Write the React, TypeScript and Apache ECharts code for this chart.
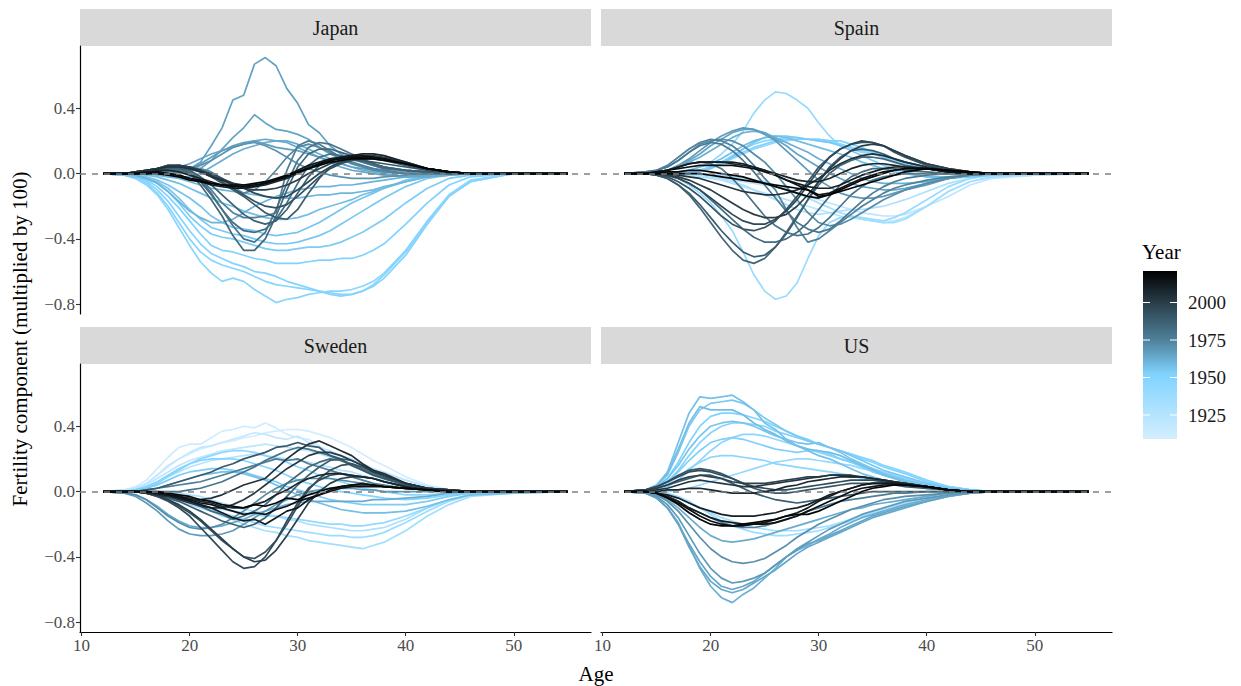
import React, { useEffect, useRef } from "react";
import * as echarts from "echarts";

// ---------- data ----------
const ages = [12, 14, 15, 16, 17, 18, 19, 20, 21, 22, 23, 24, 25, 26, 27, 28, 29, 30, 31, 32, 33, 34, 35, 36, 37, 38, 40, 42, 44, 46, 50, 55];

const countries = ["Japan", "Spain", "Sweden", "US"];

const japanYears = [1948, 1950, 1952, 1954, 1956, 1958, 1960, 1963, 1965, 1966, 1970, 1976, 1984, 1990, 1996, 2004, 2012, 2019,
  1949, 1955, 1961, 1964, 1967, 1973, 1980, 1982, 1987, 1993, 2000, 2008, 2016];
const japanValues = [
  [0, -0.01, -0.03, -0.07, -0.13, -0.22, -0.33, -0.44, -0.54, -0.61, -0.66, -0.64, -0.66, -0.71, -0.75, -0.79, -0.77, -0.76, -0.74, -0.73, -0.72, -0.72, -0.71, -0.69, -0.66, -0.61, -0.47, -0.29, -0.13, -0.04, 0, 0],
  [0, -0.01, -0.02, -0.05, -0.1, -0.17, -0.26, -0.35, -0.43, -0.49, -0.52, -0.55, -0.57, -0.6, -0.61, -0.63, -0.66, -0.68, -0.7, -0.72, -0.73, -0.74, -0.74, -0.72, -0.69, -0.64, -0.5, -0.31, -0.14, -0.05, 0, 0],
  [0, -0.01, -0.02, -0.04, -0.08, -0.14, -0.21, -0.29, -0.37, -0.44, -0.47, -0.48, -0.5, -0.52, -0.53, -0.55, -0.55, -0.55, -0.54, -0.53, -0.53, -0.52, -0.52, -0.5, -0.47, -0.43, -0.31, -0.18, -0.07, -0.02, 0, 0],
  [0, -0.01, -0.02, -0.03, -0.06, -0.11, -0.18, -0.26, -0.32, -0.37, -0.39, -0.4, -0.42, -0.44, -0.46, -0.47, -0.47, -0.46, -0.45, -0.45, -0.44, -0.42, -0.39, -0.36, -0.32, -0.28, -0.18, -0.09, -0.03, -0.01, 0, 0],
  [0, 0, -0.01, -0.02, -0.04, -0.07, -0.11, -0.15, -0.2, -0.26, -0.3, -0.33, -0.34, -0.35, -0.37, -0.38, -0.37, -0.36, -0.33, -0.3, -0.26, -0.22, -0.18, -0.15, -0.12, -0.09, -0.04, -0.01, 0, 0, 0, 0],
  [0, 0, 0, -0.01, -0.02, -0.04, -0.06, -0.09, -0.12, -0.15, -0.18, -0.2, -0.23, -0.25, -0.27, -0.28, -0.28, -0.27, -0.25, -0.22, -0.2, -0.18, -0.16, -0.13, -0.11, -0.09, -0.05, -0.02, 0, 0, 0, 0],
  [0, 0, 0, 0, -0.01, -0.02, -0.03, -0.05, -0.07, -0.09, -0.1, -0.11, -0.12, -0.13, -0.14, -0.15, -0.15, -0.15, -0.14, -0.13, -0.13, -0.12, -0.12, -0.11, -0.1, -0.08, -0.05, -0.02, -0.01, 0, 0, 0],
  [0, 0, 0, 0, 0, -0.01, -0.02, -0.02, 0, 0.04, 0.08, 0.12, 0.15, 0.17, 0.19, 0.2, 0.2, 0.18, 0.15, 0.12, 0.09, 0.06, 0.04, 0.02, 0.01, 0, -0.02, -0.02, -0.01, 0, 0, 0],
  [0, 0, 0, 0, 0, 0, 0.01, 0.02, 0.03, 0.08, 0.15, 0.22, 0.28, 0.36, 0.31, 0.27, 0.26, 0.24, 0.21, 0.16, 0.12, 0.09, 0.06, 0.04, 0.03, 0.02, 0, 0, 0, 0, 0, 0],
  [0, 0, 0, 0, 0, 0, 0.01, 0.03, 0.07, 0.17, 0.28, 0.45, 0.48, 0.67, 0.71, 0.66, 0.52, 0.43, 0.3, 0.25, 0.17, 0.12, 0.09, 0.07, 0.05, 0.03, 0.01, 0, 0, 0, 0, 0],
  [0, 0, 0, 0, 0.01, 0.01, 0.02, 0.03, 0.05, 0.08, 0.12, 0.16, 0.18, 0.19, 0.17, 0.14, 0.1, 0.06, 0.03, 0.01, -0.01, -0.02, -0.03, -0.03, -0.03, -0.02, -0.01, 0, 0, 0, 0, 0],
  [0, 0, 0, 0.01, 0.02, 0.03, 0.03, 0.02, -0.03, -0.1, -0.18, -0.24, -0.27, -0.27, -0.26, -0.24, 0.02, 0.17, 0.2, 0.18, 0.14, 0.1, 0.07, 0.05, 0.03, 0.02, 0, 0, 0, 0, 0, 0],
  [0, 0, 0, 0.01, 0.02, 0.03, 0.03, 0, -0.07, -0.16, -0.26, -0.38, -0.47, -0.47, -0.4, -0.26, -0.1, 0.04, 0.12, 0.15, 0.15, 0.13, 0.11, 0.08, 0.06, 0.04, 0.02, 0.01, 0, 0, 0, 0],
  [0, 0, 0, 0.01, 0.03, 0.04, 0.04, 0.03, 0.01, -0.02, -0.06, -0.1, -0.14, -0.19, -0.24, -0.27, -0.28, -0.22, -0.12, -0.03, 0.04, 0.07, 0.08, 0.08, 0.07, 0.06, 0.04, 0.02, 0.01, 0, 0, 0],
  [0, 0, 0.01, 0.02, 0.03, 0.05, 0.05, 0.04, 0.02, 0, -0.03, -0.06, -0.09, -0.12, -0.14, -0.15, -0.14, -0.1, -0.05, 0, 0.04, 0.07, 0.09, 0.1, 0.1, 0.09, 0.06, 0.03, 0.01, 0, 0, 0],
  [0, 0, 0.01, 0.02, 0.03, 0.04, 0.04, 0.03, 0.01, -0.02, -0.04, -0.06, -0.07, -0.07, -0.06, -0.04, -0.02, 0.01, 0.04, 0.06, 0.08, 0.1, 0.11, 0.11, 0.1, 0.09, 0.06, 0.03, 0.01, 0, 0, 0],
  [0, 0, 0, 0.01, 0.01, 0, -0.01, -0.03, -0.05, -0.07, -0.08, -0.09, -0.09, -0.08, -0.06, -0.04, -0.01, 0.02, 0.05, 0.07, 0.09, 0.1, 0.11, 0.11, 0.1, 0.09, 0.06, 0.03, 0.01, 0, 0, 0],
  [0, 0, 0, 0, 0, -0.01, -0.02, -0.04, -0.05, -0.06, -0.07, -0.07, -0.07, -0.06, -0.05, -0.03, -0.01, 0.01, 0.03, 0.05, 0.07, 0.08, 0.09, 0.09, 0.09, 0.08, 0.06, 0.03, 0.01, 0, 0, 0],
  [0, -0.01, -0.03, -0.06, -0.12, -0.2, -0.3, -0.4, -0.48, -0.53, -0.56, -0.58, -0.6, -0.63, -0.66, -0.68, -0.69, -0.7, -0.71, -0.72, -0.74, -0.75, -0.74, -0.72, -0.68, -0.62, -0.48, -0.3, -0.14, -0.05, 0, 0],
  [0, -0.01, -0.02, -0.03, -0.05, -0.09, -0.15, -0.22, -0.28, -0.33, -0.35, -0.37, -0.38, -0.4, -0.42, -0.43, -0.43, -0.42, -0.4, -0.38, -0.35, -0.31, -0.27, -0.23, -0.19, -0.15, -0.08, -0.03, -0.01, 0, 0, 0],
  [0, 0, -0.01, -0.03, -0.06, -0.11, -0.17, -0.23, -0.27, -0.3, -0.3, -0.28, -0.24, -0.2, -0.17, -0.14, -0.12, -0.1, -0.09, -0.08, -0.08, -0.07, -0.07, -0.06, -0.05, -0.04, -0.02, -0.01, 0, 0, 0, 0],
  [0, 0, 0, 0, 0.01, 0.02, 0.04, 0.06, 0.09, 0.12, 0.14, 0.16, 0.18, 0.2, 0.21, 0.2, 0.19, 0.16, 0.13, 0.1, 0.07, 0.04, 0.02, 0.01, 0, -0.01, -0.02, -0.01, 0, 0, 0, 0],
  [0, 0, 0, 0, 0, 0.01, 0.02, 0.03, 0.06, 0.1, 0.14, 0.17, 0.19, 0.2, 0.18, 0.16, 0.15, 0.14, 0.12, 0.1, 0.08, 0.06, 0.04, 0.03, 0.02, 0.01, 0, 0, 0, 0, 0, 0],
  [0, 0, 0, 0.01, 0.02, 0.03, 0.04, 0.04, 0.03, 0.01, -0.03, -0.08, -0.12, -0.1, -0.05, 0.02, 0.1, 0.16, 0.18, 0.16, 0.13, 0.09, 0.06, 0.04, 0.02, 0.01, 0, 0, 0, 0, 0, 0],
  [0, 0, 0, 0.01, 0.02, 0.03, 0.03, 0.01, -0.04, -0.12, -0.22, -0.32, -0.4, -0.42, -0.36, -0.22, -0.06, 0.08, 0.16, 0.19, 0.18, 0.15, 0.12, 0.09, 0.06, 0.04, 0.02, 0.01, 0, 0, 0, 0],
  [0, 0, 0, 0.01, 0.02, 0.02, 0.02, 0, -0.05, -0.13, -0.22, -0.3, -0.35, -0.36, -0.34, -0.28, -0.18, -0.06, 0.05, 0.1, 0.12, 0.11, 0.09, 0.07, 0.05, 0.03, 0.02, 0.01, 0, 0, 0, 0],
  [0, 0, 0, 0.01, 0.02, 0.03, 0.03, 0.02, -0.02, -0.07, -0.13, -0.19, -0.25, -0.29, -0.31, -0.29, -0.22, -0.12, -0.02, 0.05, 0.09, 0.1, 0.09, 0.08, 0.06, 0.04, 0.02, 0.01, 0, 0, 0, 0],
  [0, 0, 0.01, 0.02, 0.03, 0.04, 0.05, 0.04, 0.02, -0.01, -0.05, -0.09, -0.13, -0.17, -0.2, -0.21, -0.19, -0.14, -0.08, -0.02, 0.03, 0.06, 0.08, 0.09, 0.09, 0.08, 0.05, 0.02, 0.01, 0, 0, 0],
  [0, 0, 0.01, 0.02, 0.03, 0.05, 0.05, 0.04, 0.02, -0.01, -0.04, -0.07, -0.09, -0.1, -0.1, -0.09, -0.07, -0.04, 0, 0.03, 0.06, 0.08, 0.1, 0.11, 0.11, 0.1, 0.07, 0.03, 0.01, 0, 0, 0],
  [0, 0, 0, 0.01, 0.02, 0.02, 0.01, -0.01, -0.03, -0.05, -0.07, -0.08, -0.08, -0.08, -0.07, -0.05, -0.03, 0, 0.03, 0.06, 0.08, 0.1, 0.11, 0.12, 0.12, 0.11, 0.07, 0.03, 0.01, 0, 0, 0],
  [0, 0, 0, 0, 0.01, 0, -0.01, -0.03, -0.04, -0.06, -0.07, -0.08, -0.08, -0.07, -0.06, -0.04, -0.02, 0.01, 0.03, 0.06, 0.08, 0.09, 0.1, 0.1, 0.1, 0.09, 0.06, 0.03, 0.01, 0, 0, 0],
];

const spainYears = [1925, 1930, 1939, 1941, 1948, 1955, 1962, 1968, 1975, 1980, 1985, 1992, 2000, 2008, 2015, 2020,
  1922, 1935, 1945, 1952, 1958, 1965, 1972, 1978, 1983, 1988, 1996, 2004, 2011, 2018];
const spainValues = [
  [0, 0, 0, 0, 0, -0.01, -0.02, -0.03, -0.04, -0.06, -0.08, -0.1, -0.12, -0.14, -0.16, -0.18, -0.2, -0.22, -0.24, -0.26, -0.27, -0.28, -0.29, -0.3, -0.29, -0.27, -0.2, -0.11, -0.05, -0.02, -0.01, 0],
  [0, 0, 0, 0, 0, 0, -0.01, -0.02, -0.03, -0.05, -0.07, -0.1, -0.13, -0.16, -0.19, -0.22, -0.24, -0.25, -0.24, -0.23, -0.22, -0.22, -0.21, -0.2, -0.18, -0.16, -0.11, -0.06, -0.03, -0.01, 0, 0],
  [0, 0, 0, -0.01, -0.03, -0.07, -0.12, -0.18, -0.26, -0.35, -0.48, -0.62, -0.72, -0.77, -0.75, -0.67, -0.52, -0.38, -0.3, -0.27, -0.26, -0.27, -0.28, -0.29, -0.27, -0.24, -0.16, -0.08, -0.03, -0.01, 0, 0],
  [0, 0, 0, 0, 0.01, 0.02, 0.04, 0.07, 0.12, 0.18, 0.26, 0.37, 0.45, 0.5, 0.49, 0.45, 0.4, 0.31, 0.23, 0.17, 0.15, 0.13, 0.12, 0.1, 0.08, 0.06, 0.03, 0.01, 0, 0, 0, 0],
  [0, 0, 0, 0, 0, 0.01, 0.02, 0.04, 0.07, 0.11, 0.15, 0.18, 0.2, 0.21, 0.22, 0.22, 0.21, 0.2, 0.19, 0.18, 0.16, 0.15, 0.13, 0.11, 0.09, 0.07, 0.04, 0.02, 0.01, 0, 0, 0],
  [0, 0, 0, 0, 0, 0, 0.01, 0.03, 0.06, 0.1, 0.15, 0.19, 0.22, 0.23, 0.23, 0.22, 0.21, 0.2, 0.19, 0.17, 0.14, 0.11, 0.08, 0.05, 0.03, 0.01, -0.02, -0.03, -0.02, -0.01, 0, 0],
  [0, 0, 0.01, 0.02, 0.04, 0.07, 0.1, 0.14, 0.18, 0.22, 0.25, 0.26, 0.25, 0.22, 0.19, 0.16, 0.13, 0.09, 0.06, 0.03, 0, -0.03, -0.05, -0.06, -0.06, -0.06, -0.05, -0.03, -0.01, 0, 0, 0],
  [0, 0, 0.01, 0.02, 0.05, 0.09, 0.14, 0.19, 0.23, 0.26, 0.28, 0.27, 0.24, 0.2, 0.14, 0.08, 0.02, -0.04, -0.08, -0.12, -0.14, -0.15, -0.15, -0.14, -0.12, -0.1, -0.07, -0.03, -0.01, 0, 0, 0],
  [0, 0.01, 0.02, 0.05, 0.1, 0.15, 0.19, 0.21, 0.2, 0.17, 0.12, 0.05, -0.03, -0.1, -0.22, -0.33, -0.42, -0.4, -0.35, -0.3, -0.25, -0.2, -0.16, -0.12, -0.09, -0.07, -0.04, -0.02, -0.01, 0, 0, 0],
  [0, 0, 0.01, 0.02, 0.04, 0.06, 0.07, 0.06, 0.03, -0.03, -0.1, -0.18, -0.26, -0.32, -0.36, -0.38, -0.37, -0.33, -0.27, -0.2, -0.13, -0.08, -0.04, -0.02, -0.01, 0, 0, 0, 0, 0, 0, 0],
  [0, 0, -0.01, -0.03, -0.07, -0.13, -0.21, -0.3, -0.39, -0.47, -0.53, -0.55, -0.52, -0.45, -0.36, -0.26, -0.16, -0.07, 0, 0.05, 0.08, 0.1, 0.1, 0.09, 0.07, 0.05, 0.03, 0.01, 0, 0, 0, 0],
  [0, 0, -0.01, -0.02, -0.05, -0.09, -0.14, -0.2, -0.26, -0.31, -0.34, -0.35, -0.33, -0.29, -0.22, -0.14, -0.05, 0.04, 0.1, 0.15, 0.18, 0.19, 0.19, 0.17, 0.13, 0.1, 0.05, 0.02, 0.01, 0, 0, 0],
  [0, 0, 0, -0.01, -0.02, -0.04, -0.07, -0.1, -0.14, -0.18, -0.22, -0.25, -0.27, -0.27, -0.25, -0.2, -0.13, -0.05, 0.03, 0.09, 0.14, 0.17, 0.18, 0.17, 0.14, 0.11, 0.06, 0.03, 0.01, 0, 0, 0],
  [0, 0, 0.01, 0.02, 0.04, 0.06, 0.07, 0.07, 0.07, 0.06, 0.05, 0.04, 0.02, 0, -0.02, -0.04, -0.05, -0.05, -0.03, 0, 0.03, 0.05, 0.06, 0.06, 0.05, 0.04, 0.03, 0.01, 0, 0, 0, 0],
  [0, 0, 0.01, 0.02, 0.03, 0.04, 0.05, 0.05, 0.05, 0.05, 0.04, 0.03, 0.01, -0.01, -0.04, -0.07, -0.1, -0.13, -0.12, -0.09, -0.06, -0.03, -0.01, 0.01, 0.02, 0.03, 0.03, 0.01, 0, 0, 0, 0],
  [0, 0, 0, 0, 0, 0, 0, -0.01, -0.02, -0.03, -0.04, -0.05, -0.06, -0.07, -0.08, -0.09, -0.1, -0.14, -0.13, -0.11, -0.09, -0.07, -0.05, -0.03, -0.01, 0.01, 0.03, 0.02, 0.01, 0, 0, 0],
  [0, 0, 0, 0, 0, 0, -0.01, -0.02, -0.03, -0.04, -0.05, -0.06, -0.07, -0.08, -0.1, -0.12, -0.14, -0.16, -0.18, -0.2, -0.22, -0.24, -0.25, -0.26, -0.26, -0.25, -0.2, -0.14, -0.07, -0.03, -0.01, 0],
  [0, 0, 0, 0, 0, 0, 0, -0.01, -0.01, -0.02, -0.03, -0.04, -0.05, -0.07, -0.09, -0.12, -0.15, -0.18, -0.21, -0.24, -0.26, -0.28, -0.29, -0.3, -0.3, -0.28, -0.2, -0.11, -0.05, -0.02, 0, 0],
  [0, 0, 0, 0, 0, 0.01, 0.02, 0.04, 0.06, 0.09, 0.12, 0.15, 0.17, 0.19, 0.2, 0.21, 0.21, 0.21, 0.2, 0.18, 0.16, 0.14, 0.12, 0.1, 0.08, 0.06, 0.03, 0.01, 0, 0, 0, 0],
  [0, 0, 0, 0, 0, 0.01, 0.02, 0.04, 0.07, 0.1, 0.13, 0.16, 0.18, 0.2, 0.21, 0.21, 0.21, 0.21, 0.2, 0.2, 0.18, 0.16, 0.13, 0.1, 0.08, 0.06, 0.03, 0.01, 0, 0, 0, 0],
  [0, 0, 0, 0, 0.01, 0.02, 0.04, 0.06, 0.09, 0.13, 0.17, 0.2, 0.22, 0.23, 0.22, 0.2, 0.18, 0.16, 0.14, 0.12, 0.1, 0.07, 0.05, 0.03, 0.01, 0, -0.02, -0.02, -0.01, 0, 0, 0],
  [0, 0, 0.01, 0.02, 0.04, 0.08, 0.12, 0.17, 0.21, 0.25, 0.27, 0.27, 0.25, 0.21, 0.17, 0.12, 0.08, 0.04, 0, -0.03, -0.06, -0.08, -0.09, -0.1, -0.1, -0.09, -0.06, -0.03, -0.01, 0, 0, 0],
  [0, 0.01, 0.02, 0.04, 0.08, 0.13, 0.18, 0.2, 0.21, 0.2, 0.17, 0.12, 0.07, 0, -0.08, -0.16, -0.24, -0.3, -0.32, -0.31, -0.28, -0.24, -0.2, -0.16, -0.13, -0.1, -0.06, -0.03, -0.01, 0, 0, 0],
  [0, 0.01, 0.02, 0.04, 0.08, 0.13, 0.17, 0.19, 0.18, 0.14, 0.08, 0.01, -0.07, -0.15, -0.23, -0.3, -0.34, -0.36, -0.34, -0.29, -0.23, -0.17, -0.12, -0.08, -0.05, -0.03, -0.01, 0, 0, 0, 0, 0],
  [0, 0, 0, -0.01, -0.03, -0.06, -0.1, -0.16, -0.22, -0.28, -0.34, -0.39, -0.42, -0.42, -0.4, -0.36, -0.3, -0.22, -0.14, -0.07, -0.02, 0.01, 0.03, 0.03, 0.03, 0.02, 0.01, 0, 0, 0, 0, 0],
  [0, 0, -0.01, -0.03, -0.07, -0.12, -0.19, -0.27, -0.35, -0.42, -0.48, -0.51, -0.5, -0.45, -0.37, -0.27, -0.16, -0.05, 0.04, 0.1, 0.14, 0.15, 0.14, 0.12, 0.09, 0.07, 0.04, 0.02, 0.01, 0, 0, 0],
  [0, 0, 0, -0.01, -0.03, -0.06, -0.1, -0.15, -0.2, -0.25, -0.29, -0.31, -0.31, -0.28, -0.23, -0.16, -0.07, 0.02, 0.1, 0.15, 0.18, 0.2, 0.19, 0.17, 0.14, 0.11, 0.06, 0.03, 0.01, 0, 0, 0],
  [0, 0, 0, 0, -0.01, -0.02, -0.03, -0.05, -0.07, -0.09, -0.11, -0.12, -0.13, -0.13, -0.12, -0.1, -0.07, -0.03, 0.02, 0.06, 0.09, 0.11, 0.12, 0.11, 0.09, 0.07, 0.04, 0.02, 0, 0, 0, 0],
  [0, 0, 0.01, 0.02, 0.04, 0.06, 0.07, 0.07, 0.07, 0.07, 0.06, 0.04, 0.02, -0.01, -0.04, -0.06, -0.08, -0.09, -0.09, -0.07, -0.04, -0.01, 0.01, 0.03, 0.04, 0.04, 0.03, 0.01, 0, 0, 0, 0],
  [0, 0, 0, 0.01, 0.01, 0.02, 0.02, 0.01, 0, -0.01, -0.02, -0.04, -0.06, -0.08, -0.1, -0.12, -0.14, -0.15, -0.13, -0.1, -0.07, -0.04, -0.02, 0, 0.02, 0.03, 0.03, 0.02, 0.01, 0, 0, 0],
];

const swedenYears = [1912, 1918, 1925, 1935, 1942, 1950, 1958, 1968, 1976, 1984, 1990, 1995, 1999, 2004, 2012, 2019,
  1910, 1921, 1930, 1938, 1946, 1954, 1963, 1972, 1980, 1987, 1993, 2001, 2008, 2015];
const swedenValues = [
  [0, 0.01, 0.03, 0.07, 0.14, 0.21, 0.27, 0.29, 0.29, 0.33, 0.37, 0.38, 0.4, 0.39, 0.42, 0.39, 0.35, 0.33, 0.32, 0.28, 0.23, 0.2, 0.16, 0.13, 0.1, 0.07, 0.03, 0.01, 0, 0, 0, 0],
  [0, 0.01, 0.02, 0.05, 0.1, 0.16, 0.2, 0.24, 0.27, 0.28, 0.3, 0.32, 0.34, 0.36, 0.35, 0.33, 0.32, 0.34, 0.3, 0.27, 0.25, 0.22, 0.2, 0.17, 0.14, 0.12, 0.07, 0.03, 0.01, 0, 0, 0],
  [0, 0, 0.01, 0.03, 0.06, 0.09, 0.12, 0.15, 0.17, 0.19, 0.2, 0.21, 0.22, 0.23, 0.22, 0.21, 0.2, 0.19, 0.18, 0.16, 0.15, 0.13, 0.12, 0.1, 0.08, 0.07, 0.04, 0.02, 0.01, 0, 0, 0],
  [0, 0, 0, -0.01, -0.02, -0.04, -0.06, -0.08, -0.1, -0.12, -0.15, -0.17, -0.2, -0.22, -0.24, -0.25, -0.27, -0.28, -0.3, -0.31, -0.32, -0.33, -0.34, -0.35, -0.33, -0.31, -0.24, -0.15, -0.08, -0.03, -0.01, 0],
  [0, 0, 0, -0.01, -0.02, -0.03, -0.05, -0.06, -0.08, -0.1, -0.11, -0.12, -0.13, -0.14, -0.15, -0.15, -0.16, -0.17, -0.18, -0.19, -0.2, -0.2, -0.21, -0.21, -0.2, -0.19, -0.15, -0.1, -0.05, -0.02, 0, 0],
  [0, 0, 0.01, 0.03, 0.06, 0.1, 0.14, 0.17, 0.19, 0.2, 0.2, 0.2, 0.19, 0.17, 0.15, 0.13, 0.1, 0.07, 0.05, 0.03, 0.01, 0, -0.01, -0.02, -0.03, -0.04, -0.05, -0.04, -0.02, -0.01, 0, 0],
  [0, 0, 0, 0.01, 0.02, 0.04, 0.06, 0.08, 0.1, 0.11, 0.12, 0.12, 0.11, 0.09, 0.07, 0.04, 0.01, -0.02, -0.05, -0.07, -0.09, -0.11, -0.12, -0.13, -0.13, -0.13, -0.12, -0.09, -0.05, -0.02, -0.01, 0],
  [0, -0.01, -0.03, -0.07, -0.12, -0.18, -0.23, -0.26, -0.27, -0.27, -0.26, -0.24, -0.2, -0.16, -0.12, -0.08, -0.05, -0.02, 0, 0.01, 0.02, 0.02, 0.02, 0.01, 0.01, 0, 0, 0, 0, 0, 0, 0],
  [0, 0, 0, 0.01, 0.02, 0.03, 0.04, 0.05, 0.06, 0.08, 0.1, 0.12, 0.14, 0.16, 0.18, 0.2, 0.19, 0.2, 0.17, 0.15, 0.13, 0.11, 0.09, 0.07, 0.05, 0.04, 0.02, 0.01, 0, 0, 0, 0],
  [0, 0, 0, 0, -0.01, -0.02, -0.04, -0.06, -0.09, -0.12, -0.14, -0.17, -0.15, -0.12, -0.08, -0.02, 0.05, 0.1, 0.15, 0.18, 0.2, 0.19, 0.17, 0.14, 0.11, 0.08, 0.04, 0.02, 0, 0, 0, 0],
  [0, 0, 0, 0.01, 0.02, 0.04, 0.06, 0.08, 0.1, 0.12, 0.15, 0.17, 0.2, 0.22, 0.24, 0.27, 0.28, 0.3, 0.28, 0.27, 0.22, 0.2, 0.16, 0.13, 0.1, 0.08, 0.04, 0.02, 0.01, 0, 0, 0],
  [0, 0, 0, -0.01, -0.03, -0.06, -0.1, -0.15, -0.22, -0.29, -0.36, -0.43, -0.47, -0.46, -0.4, -0.3, -0.18, -0.07, 0.02, 0.07, 0.1, 0.11, 0.1, 0.09, 0.08, 0.06, 0.03, 0.01, 0, 0, 0, 0],
  [0, 0, 0, -0.01, -0.02, -0.05, -0.08, -0.12, -0.17, -0.23, -0.29, -0.35, -0.4, -0.43, -0.42, -0.36, -0.27, -0.17, -0.07, 0, 0.05, 0.08, 0.09, 0.09, 0.08, 0.06, 0.03, 0.01, 0, 0, 0, 0],
  [0, 0, 0, -0.01, -0.02, -0.03, -0.04, -0.05, -0.05, -0.04, -0.02, 0.01, 0.04, 0.06, 0.08, 0.14, 0.2, 0.25, 0.29, 0.31, 0.28, 0.25, 0.22, 0.17, 0.13, 0.11, 0.05, 0.02, 0.01, 0, 0, 0],
  [0, 0, 0, 0, -0.01, -0.02, -0.04, -0.06, -0.08, -0.1, -0.13, -0.16, -0.18, -0.17, -0.2, -0.16, -0.12, -0.1, -0.05, -0.02, 0.01, 0.03, 0.04, 0.05, 0.04, 0.03, 0.02, 0.01, 0, 0, 0, 0],
  [0, 0, 0, 0, 0, -0.01, -0.02, -0.03, -0.05, -0.06, -0.08, -0.09, -0.1, -0.08, -0.09, -0.07, -0.04, -0.05, -0.02, 0, 0.02, 0.03, 0.04, 0.04, 0.04, 0.03, 0.02, 0.01, 0, 0, 0, 0],
  [0, 0.01, 0.02, 0.05, 0.1, 0.15, 0.2, 0.23, 0.26, 0.28, 0.3, 0.31, 0.33, 0.34, 0.36, 0.37, 0.38, 0.38, 0.37, 0.35, 0.33, 0.3, 0.27, 0.23, 0.19, 0.16, 0.09, 0.04, 0.01, 0, 0, 0],
  [0, 0.01, 0.02, 0.04, 0.08, 0.12, 0.16, 0.19, 0.21, 0.23, 0.25, 0.26, 0.27, 0.28, 0.29, 0.28, 0.27, 0.26, 0.25, 0.23, 0.21, 0.19, 0.17, 0.15, 0.13, 0.11, 0.07, 0.03, 0.01, 0, 0, 0],
  [0, 0, 0, 0, 0, 0, -0.01, -0.02, -0.03, -0.05, -0.07, -0.09, -0.11, -0.12, -0.14, -0.15, -0.17, -0.18, -0.2, -0.21, -0.22, -0.23, -0.24, -0.24, -0.23, -0.22, -0.17, -0.1, -0.05, -0.02, 0, 0],
  [0, 0, 0, -0.01, -0.02, -0.03, -0.05, -0.07, -0.09, -0.11, -0.13, -0.15, -0.17, -0.19, -0.21, -0.22, -0.23, -0.24, -0.25, -0.26, -0.27, -0.27, -0.28, -0.28, -0.27, -0.25, -0.19, -0.12, -0.06, -0.02, 0, 0],
  [0, 0, 0.01, 0.02, 0.05, 0.09, 0.13, 0.17, 0.2, 0.22, 0.24, 0.25, 0.25, 0.24, 0.22, 0.2, 0.18, 0.15, 0.13, 0.1, 0.08, 0.06, 0.04, 0.02, 0.01, 0, -0.02, -0.02, -0.01, 0, 0, 0],
  [0, 0, 0.01, 0.02, 0.04, 0.07, 0.1, 0.12, 0.13, 0.14, 0.14, 0.13, 0.12, 0.1, 0.08, 0.06, 0.03, 0.01, -0.01, -0.03, -0.05, -0.06, -0.07, -0.08, -0.08, -0.08, -0.08, -0.06, -0.03, -0.01, 0, 0],
  [0, -0.01, -0.02, -0.05, -0.09, -0.14, -0.18, -0.21, -0.22, -0.22, -0.21, -0.19, -0.17, -0.14, -0.12, -0.1, -0.08, -0.07, -0.06, -0.06, -0.06, -0.06, -0.06, -0.06, -0.05, -0.05, -0.04, -0.03, -0.01, 0, 0, 0],
  [0, -0.01, -0.02, -0.05, -0.1, -0.15, -0.19, -0.22, -0.23, -0.22, -0.2, -0.16, -0.12, -0.07, -0.02, 0.02, 0.05, 0.07, 0.08, 0.08, 0.08, 0.07, 0.06, 0.05, 0.04, 0.03, 0.02, 0.01, 0, 0, 0, 0],
  [0, 0, 0, 0, 0, 0, 0, 0.01, 0.02, 0.04, 0.06, 0.09, 0.12, 0.15, 0.19, 0.22, 0.25, 0.27, 0.26, 0.24, 0.22, 0.19, 0.16, 0.13, 0.1, 0.08, 0.04, 0.02, 0.01, 0, 0, 0],
  [0, 0, 0, -0.01, -0.02, -0.04, -0.06, -0.09, -0.12, -0.15, -0.18, -0.2, -0.22, -0.2, -0.16, -0.1, -0.03, 0.04, 0.1, 0.15, 0.19, 0.2, 0.19, 0.16, 0.13, 0.1, 0.05, 0.02, 0.01, 0, 0, 0],
  [0, 0, 0, -0.01, -0.03, -0.05, -0.09, -0.13, -0.18, -0.24, -0.3, -0.35, -0.4, -0.41, -0.37, -0.3, -0.2, -0.09, 0.01, 0.08, 0.13, 0.16, 0.17, 0.15, 0.12, 0.09, 0.05, 0.02, 0.01, 0, 0, 0],
  [0, 0, 0, -0.01, -0.02, -0.03, -0.05, -0.07, -0.09, -0.1, -0.1, -0.08, -0.05, -0.01, 0.04, 0.09, 0.14, 0.18, 0.22, 0.24, 0.24, 0.22, 0.19, 0.16, 0.12, 0.1, 0.05, 0.02, 0.01, 0, 0, 0],
  [0, 0, 0, 0, -0.01, -0.02, -0.03, -0.04, -0.06, -0.07, -0.09, -0.1, -0.1, -0.08, -0.06, -0.02, 0.01, 0.05, 0.08, 0.1, 0.11, 0.11, 0.1, 0.09, 0.08, 0.06, 0.03, 0.01, 0, 0, 0, 0],
  [0, 0, 0, 0, -0.01, -0.02, -0.03, -0.05, -0.07, -0.08, -0.1, -0.12, -0.14, -0.13, -0.14, -0.11, -0.09, -0.06, -0.04, -0.02, 0, 0.02, 0.03, 0.03, 0.03, 0.03, 0.02, 0.01, 0, 0, 0, 0],
];

const usYears = [1936, 1942, 1947, 1952, 1957, 1956, 1948, 1965, 1962, 1971, 1988, 1995, 2003, 2012, 2019,
  1933, 1950, 1955, 1958, 1953, 1963, 1964, 1968, 1976, 1991, 1999, 2007, 2010, 2016];
const usValues = [
  [0, 0, 0, -0.01, -0.03, -0.06, -0.1, -0.14, -0.18, -0.21, -0.23, -0.25, -0.26, -0.27, -0.27, -0.26, -0.25, -0.24, -0.22, -0.2, -0.18, -0.16, -0.14, -0.12, -0.1, -0.08, -0.05, -0.02, -0.01, 0, 0, 0],
  [0, 0, 0, 0, 0.01, 0.02, 0.04, 0.06, 0.08, 0.1, 0.12, 0.14, 0.16, 0.18, 0.19, 0.2, 0.2, 0.19, 0.18, 0.17, 0.16, 0.14, 0.13, 0.11, 0.09, 0.08, 0.05, 0.03, 0.01, 0, 0, 0],
  [0, 0, 0.01, 0.03, 0.07, 0.13, 0.19, 0.25, 0.3, 0.33, 0.35, 0.35, 0.34, 0.32, 0.3, 0.28, 0.26, 0.24, 0.22, 0.2, 0.18, 0.16, 0.14, 0.12, 0.1, 0.08, 0.05, 0.02, 0.01, 0, 0, 0],
  [0, 0.01, 0.03, 0.08, 0.18, 0.3, 0.4, 0.46, 0.48, 0.48, 0.47, 0.45, 0.43, 0.4, 0.37, 0.34, 0.32, 0.29, 0.27, 0.25, 0.23, 0.2, 0.18, 0.15, 0.13, 0.11, 0.06, 0.03, 0.01, 0, 0, 0],
  [0, 0.01, 0.04, 0.12, 0.3, 0.48, 0.58, 0.57, 0.58, 0.59, 0.55, 0.5, 0.42, 0.38, 0.32, 0.28, 0.25, 0.22, 0.2, 0.17, 0.14, 0.11, 0.09, 0.07, 0.05, 0.04, 0.02, 0.01, 0, 0, 0, 0],
  [0, 0.01, 0.03, 0.08, 0.16, 0.26, 0.34, 0.4, 0.42, 0.43, 0.42, 0.4, 0.37, 0.34, 0.32, 0.3, 0.29, 0.3, 0.27, 0.24, 0.2, 0.17, 0.14, 0.11, 0.09, 0.07, 0.04, 0.02, 0.01, 0, 0, 0],
  [0, 0, 0.02, 0.05, 0.09, 0.14, 0.18, 0.21, 0.22, 0.22, 0.21, 0.2, 0.19, 0.17, 0.16, 0.15, 0.14, 0.13, 0.12, 0.11, 0.1, 0.08, 0.07, 0.06, 0.05, 0.04, 0.02, 0.01, 0, 0, 0, 0],
  [0, -0.01, -0.04, -0.1, -0.2, -0.32, -0.43, -0.52, -0.58, -0.6, -0.58, -0.55, -0.5, -0.45, -0.4, -0.36, -0.32, -0.3, -0.27, -0.24, -0.21, -0.18, -0.15, -0.13, -0.11, -0.09, -0.06, -0.03, -0.01, 0, 0, 0],
  [0, -0.01, -0.04, -0.1, -0.19, -0.33, -0.47, -0.58, -0.65, -0.68, -0.63, -0.59, -0.53, -0.47, -0.4, -0.36, -0.33, -0.29, -0.26, -0.22, -0.19, -0.16, -0.14, -0.12, -0.1, -0.08, -0.05, -0.02, -0.01, 0, 0, 0],
  [0, 0, -0.02, -0.06, -0.12, -0.2, -0.28, -0.35, -0.4, -0.43, -0.44, -0.43, -0.41, -0.37, -0.33, -0.28, -0.24, -0.2, -0.17, -0.14, -0.11, -0.09, -0.07, -0.05, -0.04, -0.03, -0.02, -0.01, 0, 0, 0, 0],
  [0, 0.01, 0.02, 0.04, 0.06, 0.08, 0.1, 0.1, 0.08, 0.05, 0.02, -0.01, -0.03, -0.05, -0.06, -0.07, -0.06, -0.05, -0.04, -0.03, -0.02, -0.01, 0, 0, 0, 0, 0, 0, 0, 0, 0, 0],
  [0, 0.01, 0.03, 0.06, 0.09, 0.12, 0.13, 0.12, 0.1, 0.08, 0.05, 0.03, 0.02, 0.01, 0.01, 0.02, 0.03, 0.04, 0.05, 0.06, 0.07, 0.07, 0.07, 0.06, 0.05, 0.04, 0.03, 0.01, 0, 0, 0, 0],
  [0, 0, 0.01, 0.02, 0.04, 0.06, 0.07, 0.06, 0.05, 0.04, 0.03, 0.03, 0.04, 0.05, 0.06, 0.07, 0.08, 0.09, 0.1, 0.1, 0.1, 0.09, 0.08, 0.07, 0.06, 0.05, 0.03, 0.01, 0, 0, 0, 0],
  [0, 0, -0.01, -0.03, -0.06, -0.1, -0.13, -0.16, -0.18, -0.19, -0.2, -0.2, -0.19, -0.17, -0.15, -0.13, -0.1, -0.06, -0.03, 0, 0.02, 0.04, 0.05, 0.05, 0.05, 0.04, 0.03, 0.01, 0, 0, 0, 0],
  [0, 0, -0.01, -0.04, -0.08, -0.13, -0.17, -0.2, -0.21, -0.21, -0.2, -0.19, -0.18, -0.17, -0.15, -0.14, -0.14, -0.12, -0.09, -0.06, -0.03, 0, 0.02, 0.03, 0.04, 0.04, 0.03, 0.01, 0, 0, 0, 0],
  [0, 0, -0.01, -0.02, -0.04, -0.07, -0.1, -0.13, -0.16, -0.18, -0.2, -0.22, -0.23, -0.24, -0.24, -0.24, -0.23, -0.22, -0.21, -0.19, -0.17, -0.15, -0.13, -0.11, -0.09, -0.07, -0.04, -0.02, -0.01, 0, 0, 0],
  [0, 0.01, 0.02, 0.06, 0.13, 0.22, 0.3, 0.36, 0.4, 0.42, 0.42, 0.41, 0.4, 0.37, 0.35, 0.33, 0.31, 0.29, 0.27, 0.25, 0.23, 0.21, 0.19, 0.16, 0.14, 0.12, 0.07, 0.03, 0.01, 0, 0, 0],
  [0, 0.01, 0.04, 0.1, 0.24, 0.4, 0.5, 0.54, 0.55, 0.56, 0.54, 0.5, 0.45, 0.41, 0.37, 0.34, 0.31, 0.29, 0.27, 0.25, 0.22, 0.19, 0.16, 0.13, 0.11, 0.09, 0.05, 0.02, 0.01, 0, 0, 0],
  [0, 0.01, 0.04, 0.11, 0.26, 0.42, 0.52, 0.5, 0.5, 0.5, 0.47, 0.42, 0.38, 0.35, 0.31, 0.28, 0.26, 0.25, 0.24, 0.22, 0.19, 0.16, 0.13, 0.1, 0.08, 0.06, 0.03, 0.01, 0, 0, 0, 0],
  [0, 0.01, 0.03, 0.06, 0.12, 0.19, 0.25, 0.3, 0.32, 0.33, 0.32, 0.3, 0.28, 0.26, 0.25, 0.24, 0.25, 0.25, 0.23, 0.2, 0.18, 0.15, 0.12, 0.1, 0.08, 0.06, 0.03, 0.01, 0, 0, 0, 0],
  [0, 0, -0.02, -0.05, -0.1, -0.16, -0.22, -0.27, -0.3, -0.31, -0.3, -0.29, -0.27, -0.25, -0.23, -0.21, -0.19, -0.17, -0.15, -0.13, -0.11, -0.1, -0.08, -0.07, -0.06, -0.05, -0.03, -0.01, 0, 0, 0, 0],
  [0, -0.01, -0.04, -0.1, -0.2, -0.34, -0.46, -0.55, -0.6, -0.62, -0.6, -0.56, -0.52, -0.48, -0.43, -0.38, -0.34, -0.31, -0.28, -0.25, -0.22, -0.19, -0.16, -0.14, -0.12, -0.1, -0.06, -0.03, -0.01, 0, 0, 0],
  [0, -0.01, -0.03, -0.08, -0.16, -0.27, -0.38, -0.47, -0.53, -0.56, -0.55, -0.53, -0.5, -0.45, -0.4, -0.35, -0.31, -0.27, -0.23, -0.2, -0.17, -0.14, -0.12, -0.1, -0.08, -0.06, -0.04, -0.02, -0.01, 0, 0, 0],
  [0, 0, -0.01, -0.03, -0.06, -0.1, -0.13, -0.16, -0.19, -0.21, -0.22, -0.22, -0.21, -0.19, -0.17, -0.15, -0.12, -0.1, -0.08, -0.06, -0.05, -0.04, -0.03, -0.02, -0.01, -0.01, 0, 0, 0, 0, 0, 0],
  [0, 0.01, 0.03, 0.06, 0.1, 0.13, 0.14, 0.13, 0.11, 0.08, 0.05, 0.02, 0, -0.01, -0.01, 0, 0.01, 0.02, 0.03, 0.04, 0.05, 0.05, 0.05, 0.05, 0.04, 0.03, 0.02, 0.01, 0, 0, 0, 0],
  [0, 0.01, 0.02, 0.04, 0.07, 0.09, 0.1, 0.09, 0.08, 0.06, 0.05, 0.05, 0.05, 0.06, 0.07, 0.08, 0.09, 0.09, 0.1, 0.1, 0.09, 0.09, 0.08, 0.07, 0.06, 0.05, 0.03, 0.01, 0, 0, 0, 0],
  [0, 0, 0, 0.01, 0.01, 0.02, 0.02, 0.01, 0, -0.01, -0.01, -0.01, 0, 0.01, 0.03, 0.04, 0.06, 0.07, 0.08, 0.09, 0.09, 0.09, 0.08, 0.07, 0.06, 0.05, 0.03, 0.01, 0, 0, 0, 0],
  [0, 0, -0.01, -0.02, -0.04, -0.07, -0.1, -0.12, -0.14, -0.15, -0.15, -0.15, -0.14, -0.13, -0.11, -0.1, -0.08, -0.05, -0.02, 0, 0.02, 0.04, 0.05, 0.05, 0.05, 0.04, 0.03, 0.01, 0, 0, 0, 0],
  [0, 0, -0.01, -0.04, -0.07, -0.11, -0.15, -0.18, -0.2, -0.21, -0.21, -0.2, -0.2, -0.19, -0.17, -0.15, -0.12, -0.09, -0.06, -0.03, 0, 0.02, 0.03, 0.04, 0.04, 0.04, 0.03, 0.01, 0, 0, 0, 0],
];

const xTicks = [10, 20, 30, 40, 50];
const yTicks = [-0.8, -0.4, 0, 0.4];
const legendTicks = [1925, 1950, 1975, 2000];
const yearMin = 1909;
const yearMax = 2021;
const colorStops: [number, string][] = [
  [1909, "#D4EEFF"],
  [1952, "#80D3FF"],
  [1975, "#4F819B"],
  [2000, "#293E49"],
  [2021, "#000000"],
];

// ---------- layout ----------
const FONT = "'Liberation Serif', 'Times New Roman', serif";
const xMin = 9.85;
const xMax = 57.15;
const yMin = -0.86;
const yMax = 0.781;
const panels = [
  { left: 80, top: 46, width: 511, height: 268, bottom: false, leftAxis: true },
  { left: 601, top: 46, width: 511, height: 268, bottom: false, leftAxis: false },
  { left: 80, top: 364, width: 511, height: 268, bottom: true, leftAxis: true },
  { left: 601, top: 364, width: 511, height: 268, bottom: true, leftAxis: false },
];
const stripH = 37;
const bar = { x: 1143, y: 271, w: 34, h: 168 };

function hex(c: string) {
  const n = parseInt(c.slice(1), 16);
  return [(n >> 16) & 255, (n >> 8) & 255, n & 255];
}
function yearColor(y: number) {
  for (let i = 0; i < colorStops.length - 1; i++) {
    const [y0, c0] = colorStops[i];
    const [y1, c1] = colorStops[i + 1];
    if (y <= y1 || i === colorStops.length - 2) {
      const t = Math.max(0, Math.min(1, (y - y0) / (y1 - y0)));
      const a = hex(c0), b = hex(c1);
      const r = a.map((v, k) => Math.round(v + (b[k] - v) * t));
      return `rgb(${r[0]},${r[1]},${r[2]})`;
    }
  }
  return "#000";
}
function fmtY(v: number) {
  if (Math.abs(v) < 1e-9) return "0.0";
  return (v < 0 ? "\u2212" : "") + Math.abs(v).toFixed(1);
}

export default function App() {
  const ref = useRef<HTMLDivElement>(null);
  useEffect(() => {
    if (!ref.current) return;
    const chart = echarts.init(ref.current, undefined, { renderer: "svg" });
    const allYears = [japanYears, spainYears, swedenYears, usYears];
    const allValues = [japanValues, spainValues, swedenValues, usValues];

    const series: any[] = [];
    panels.forEach((p, pi) => {
      series.push({
        type: "line",
        xAxisIndex: pi,
        yAxisIndex: pi,
        data: [],
        silent: true,
        z: 1,
        markLine: {
          silent: true,
          symbol: "none",
          label: { show: false },
          lineStyle: { type: [6, 6], color: "#808080", width: 1.5 },
          data: [{ yAxis: 0 }],
        },
      });
      const order = allYears[pi].map((y, i) => i).sort((a, b) => allYears[pi][a] - allYears[pi][b]);
      order.forEach((li) => {
        const yr = allYears[pi][li];
        series.push({
          type: "line",
          xAxisIndex: pi,
          yAxisIndex: pi,
          data: ages.map((a, k) => [a, allValues[pi][li][k]]),
          symbol: "none",
          showSymbol: false,
          silent: true,
          z: 2,
          lineStyle: { color: yearColor(yr), width: 1.7 },
          emphasis: { disabled: true },
        });
      });
    });

    const graphic: any[] = [];
    panels.forEach((p, pi) => {
      graphic.push({
        type: "rect",
        shape: { x: p.left, y: p.top - stripH, width: p.width, height: stripH },
        style: { fill: "#D9D9D9" },
        silent: true,
      });
      graphic.push({
        type: "text",
        x: p.left + p.width / 2,
        y: p.top - stripH / 2,
        style: { text: countries[pi], fontFamily: FONT, fontSize: 20, fill: "#1A1A1A", textAlign: "center", textVerticalAlign: "middle" },
        silent: true,
      });
    });
    graphic.push({
      type: "text",
      x: 20,
      y: (panels[0].top + panels[2].top + panels[2].height) / 2,
      rotation: Math.PI / 2,
      style: { text: "Fertility component (multiplied by 100)", fontFamily: FONT, fontSize: 21, fill: "#000", textAlign: "center", textVerticalAlign: "middle" },
      silent: true,
    });
    graphic.push({
      type: "text",
      x: (panels[2].left + panels[3].left + panels[3].width) / 2,
      y: 674,
      style: { text: "Age", fontFamily: FONT, fontSize: 21, fill: "#000", textAlign: "center", textVerticalAlign: "middle" },
      silent: true,
    });
    // colour bar legend
    const span = yearMax - yearMin;
    graphic.push({
      type: "text",
      x: bar.x - 1,
      y: 252,
      style: { text: "Year", fontFamily: FONT, fontSize: 21, fill: "#000", textAlign: "left", textVerticalAlign: "middle" },
      silent: true,
    });
    graphic.push({
      type: "rect",
      shape: { x: bar.x, y: bar.y, width: bar.w, height: bar.h },
      style: {
        fill: {
          type: "linear",
          x: 0, y: 1, x2: 0, y2: 0,
          colorStops: colorStops.map(([yr, c]) => ({ offset: (yr - yearMin) / span, color: c })),
        },
      },
      silent: true,
    });
    legendTicks.forEach((yr) => {
      const ty = bar.y + bar.h - ((yr - yearMin) / span) * bar.h;
      graphic.push({ type: "line", shape: { x1: bar.x, y1: ty, x2: bar.x + 7, y2: ty }, style: { stroke: "#FFFFFF", lineWidth: 1 }, silent: true });
      graphic.push({ type: "line", shape: { x1: bar.x + bar.w - 7, y1: ty, x2: bar.x + bar.w, y2: ty }, style: { stroke: "#FFFFFF", lineWidth: 1 }, silent: true });
      graphic.push({
        type: "text",
        x: bar.x + bar.w + 11,
        y: ty,
        style: { text: String(yr), fontFamily: FONT, fontSize: 19, fill: "#1A1A1A", textAlign: "left", textVerticalAlign: "middle" },
        silent: true,
      });
    });

    chart.setOption({
      animation: false,
      backgroundColor: "#FFFFFF",
      grid: panels.map((p) => ({ left: p.left, top: p.top, width: p.width, height: p.height, containLabel: false })),
      xAxis: panels.map((p, pi) => ({
        type: "value",
        gridIndex: pi,
        min: xMin,
        max: xMax,
        axisLine: { show: p.bottom, onZero: false, lineStyle: { color: "#000", width: 1.2 } },
        axisTick: { show: p.bottom, customValues: xTicks, length: 4, lineStyle: { color: "#333", width: 1.1 } },
        axisLabel: { show: p.bottom, customValues: xTicks, color: "#4D4D4D", fontFamily: FONT, fontSize: 17, margin: 5 },
        splitLine: { show: false },
      })),
      yAxis: panels.map((p, pi) => ({
        type: "value",
        gridIndex: pi,
        min: yMin,
        max: yMax,
        axisLine: { show: p.leftAxis, onZero: false, lineStyle: { color: "#000", width: 1.2 } },
        axisTick: { show: p.leftAxis, customValues: yTicks, length: 4, lineStyle: { color: "#333", width: 1.1 } },
        axisLabel: { show: p.leftAxis, customValues: yTicks, color: "#4D4D4D", fontFamily: FONT, fontSize: 17, margin: 5, formatter: fmtY },
        splitLine: { show: false },
      })),
      series,
      graphic,
    });
    return () => chart.dispose();
  }, []);
  return <div ref={ref} style={{ position: "fixed", left: 0, top: 0, width: 1241, height: 686 }} />;
}
